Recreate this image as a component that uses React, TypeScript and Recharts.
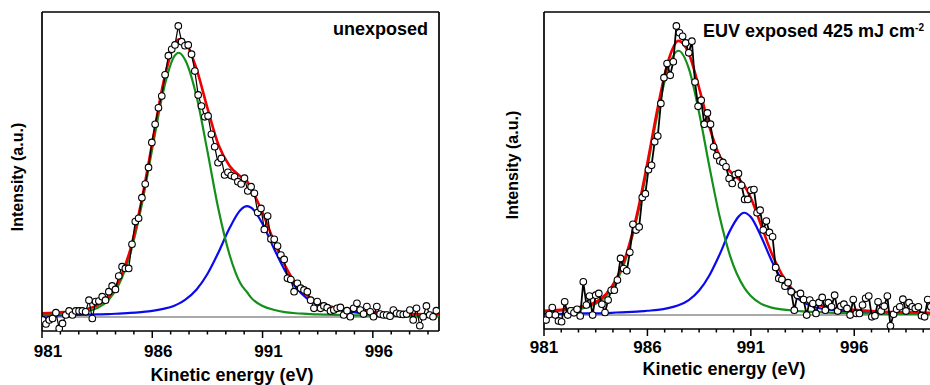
import React from 'react';
import { ComposedChart, Line, XAxis, YAxis, ReferenceLine } from 'recharts';

const FONT = '"Liberation Sans", Arial, Helvetica, sans-serif';

// measured spectra: kinetic energy grid start (eV) and step
const leftStart = 981.03;
const rightStart = 981.1;
const stepEV = 0.15;

// unexposed, normalised intensity (peak = 1000)
const leftCounts = [
  -10, -24, -10, -5, 15, -39, -22, 7, 21, 7,
  21, 21, 21, 18, 58, -5, 53, 55, 70, 58,
  87, 107, 95, 141, 173, 167, 167, 250, 328, 339,
  410, 457, 514, 600, 662, 719, 759, 832, 898, 920,
  935, 1000, 946, 932, 935, 903, 845, 763, 725, 688,
  691, 628, 585, 530, 545, 488, 497, 486, 482, 465,
  457, 477, 433, 448, 425, 359, 373, 301, 347, 268,
  267, 244, 213, 198, 133, 129, 87, 116, 99, 93,
  87, 58, 30, 53, 30, 38, 32, 21, 24, 30,
  33, 7, 22, 1, 30, 47, 24, 10, 36, 18,
  1, 36, 10, 7, 7, 3, 24, 13, 10, 9,
  10, 24, -10, 30, -30, 1, 38, 7, 1, 22,
];

// EUV exposed 425 mJ cm-2
const rightCounts = [
  -17, 2, 26, 0, -20, -23, 46, 0, 15, 8,
  20, -3, 115, 35, 66, 0, 69, 75, 38, 9,
  52, 86, 86, 121, 196, 161, 153, 217, 314, 294,
  305, 407, 420, 503, 518, 599, 619, 732, 821, 870,
  829, 876, 1000, 976, 964, 941, 907, 947, 806, 722,
  743, 660, 699, 660, 582, 551, 533, 528, 513, 472,
  455, 486, 490, 449, 400, 400, 432, 434, 354, 363,
  294, 325, 286, 271, 165, 127, 123, 100, 112, 81,
  17, 69, 75, 54, 0, 52, 40, 6, 44, 61,
  17, 43, 29, 69, 14, 31, 38, 23, 0, 54,
  6, 6, 35, 58, 66, -6, -2, 46, 14, 31,
  66, -37, 3, 20, 29, 55, 14, 43, 29, 23,
  29, -2, -6, 54, 29,
];

// fitted components, sampled off the curves
const leftFitE = [981, 982, 983, 983.5, 984, 984.5, 985, 985.5, 986, 986.5, 987, 987.2, 987.5, 988, 988.5, 989, 989.5, 990, 990.3, 990.5, 991, 991.5, 992, 992.5, 993, 993.5, 994, 995, 996, 997, 998, 999];
const leftGreen = [8, 11, 19, 31, 57, 114, 217, 377, 578, 776, 896, 908, 882, 760, 570, 370, 215, 115, 85, 65, 38, 25, 17, 13, 11, 9, 8, 6, 5, 4, 3, 3];
const leftBlue = [5, 6, 8, 9, 10, 12, 14, 17, 21, 28, 39, 46, 60, 94, 148, 222, 305, 368, 381, 375, 320, 238, 162, 103, 65, 42, 30, 18, 12, 9, 7, 6];

const rightFitE = [981, 982, 983, 983.5, 984, 984.5, 985, 985.5, 986, 986.5, 987, 987.5, 988, 988.5, 989, 989.5, 990, 990.68, 991, 991.5, 992, 992.5, 993, 993.5, 994, 995, 996, 997, 998, 999, 1000];
const rightGreen = [11, 16, 26, 39, 66, 116, 204, 338, 512, 700, 853, 914, 853, 700, 512, 338, 204, 95, 66, 39, 26, 20, 16, 13, 11, 8, 7, 5, 4, 4, 3];
const rightBlue = [4, 4, 6, 6, 7, 9, 10, 12, 15, 18, 24, 34, 52, 85, 138, 211, 293, 354, 339, 271, 189, 121, 74, 46, 30, 17, 11, 8, 6, 5, 4];

const majorTicks = [981, 986, 991, 996];
const minorPerMajor = 6;
const yDomain = [-48, 1048];

const toPoints = (xs: number[], ys: number[]) => xs.map((x, i) => ({ x, y: ys[i] }));
const gridPoints = (start: number, ys: number[]) =>
  ys.map((y, i) => ({ x: +(start + i * stepEV).toFixed(3), y }));

function makeTicks(max: number) {
  const out: number[] = [];
  const sub = 5 / minorPerMajor;
  for (let k = 0; majorTicks[0] + k * sub <= max + 1e-9; k++) out.push(majorTicks[0] + k * sub);
  return out;
}

const XTick = ({ x, y, payload, dx, dy }: any) => {
  const v = payload.value;
  const major = majorTicks.some((m) => Math.abs(m - v) < 1e-6);
  return (
    <g>
      <line x1={x} x2={x} y1={y} y2={y + (major ? 7 : 3.5)} stroke="#000" strokeWidth={1.5} />
      {major && (
        <text x={x + dx} y={y + dy} textAnchor="middle" fontFamily={FONT} fontWeight="bold" fontSize={17} fill="#000">
          {Math.round(v)}
        </text>
      )}
    </g>
  );
};

interface PanelProps {
  left: number;
  width: number;
  plotLeft: number;
  marginRight: number;
  axisHeight: number;
  xMax: number;
  start: number;
  counts: number[];
  fitE: number[];
  green: number[];
  blue: number[];
  yLabel: [number, number];
  title: [number, number];
  tickDx: number;
  tickDy: number;
  lineWidth: number;
  note: React.ReactElement;
}

function Panel(p: PanelProps) {
  const red = p.green.map((g, i) => g + p.blue[i]);
  const frame = { stroke: '#000', strokeWidth: 1.7 };
  return (
    <div style={{ position: 'absolute', left: p.left, top: 0 }}>
      <ComposedChart width={p.width} height={385} margin={{ top: 12, right: p.marginRight, bottom: 0, left: 8 }}>
        <XAxis
          xAxisId="b"
          dataKey="x"
          type="number"
          domain={[981, p.xMax]}
          allowDataOverflow
          ticks={makeTicks(p.xMax)}
          interval={0}
          tickSize={0}
          tickMargin={0}
          tickLine={false}
          height={p.axisHeight}
          axisLine={frame}
          tick={(t: any) => <XTick {...t} dx={p.tickDx} dy={p.tickDy} />}
          label={{
            content: () => (
              <text x={p.title[0]} y={p.title[1]} textAnchor="middle" fontFamily={FONT} fontWeight="bold" fontSize={18} fill="#000">
                Kinetic energy (eV)
              </text>
            ),
          }}
        />
        <YAxis
          yAxisId="l"
          type="number"
          domain={yDomain}
          allowDataOverflow
          width={p.plotLeft - 8}
          tick={false}
          tickLine={false}
          axisLine={frame}
          label={{
            content: () => (
              <text
                x={p.yLabel[0]}
                y={p.yLabel[1]}
                transform={`rotate(-90 ${p.yLabel[0]} ${p.yLabel[1]})`}
                textAnchor="middle"
                fontFamily={FONT}
                fontWeight="bold"
                fontSize={16}
                fill="#000"
              >
                Intensity (a.u.)
              </text>
            ),
          }}
        />
        <ReferenceLine xAxisId="b" yAxisId="l" y={0} stroke="#8c8c8c" strokeWidth={1.5} />
        {/* top and right edges of the frame */}
        <ReferenceLine xAxisId="b" yAxisId="l" y={yDomain[1]} stroke="#000" strokeWidth={1.7} label={{ content: () => p.note }} />
        <ReferenceLine xAxisId="b" yAxisId="l" x={p.xMax} stroke="#000" strokeWidth={1.7} />
        <Line xAxisId="b" yAxisId="l" data={toPoints(p.fitE, p.blue)} dataKey="y" type="monotone" stroke="#0a0aef" strokeWidth={2.2} dot={false} activeDot={false} isAnimationActive={false} />
        <Line xAxisId="b" yAxisId="l" data={toPoints(p.fitE, p.green)} dataKey="y" type="monotone" stroke="#13901a" strokeWidth={2.2} dot={false} activeDot={false} isAnimationActive={false} />
        <Line xAxisId="b" yAxisId="l" data={toPoints(p.fitE, red)} dataKey="y" type="monotone" stroke="#f00000" strokeWidth={2.6} dot={false} activeDot={false} isAnimationActive={false} />
        <Line
          xAxisId="b"
          yAxisId="l"
          data={gridPoints(p.start, p.counts)}
          dataKey="y"
          type="linear"
          stroke="#000"
          strokeWidth={p.lineWidth}
          dot={{ r: 3.3, fill: '#fff', stroke: '#000', strokeWidth: 1.1 }}
          activeDot={false}
          isAnimationActive={false}
        />
      </ComposedChart>
    </div>
  );
}

export default function App() {
  return (
    <div style={{ position: 'absolute', left: 0, top: 0, width: 930, height: 385, overflow: 'hidden', background: '#fff' }}>
      <Panel
        left={0}
        width={460}
        plotLeft={42}
        marginRight={21}
        axisHeight={54}
        xMax={999}
        start={leftStart}
        counts={leftCounts}
        fitE={leftFitE}
        green={leftGreen}
        blue={leftBlue}
        yLabel={[23, 177]}
        title={[232, 381]}
        tickDx={6}
        tickDy={26}
        lineWidth={1.2}
        note={
          <text x={428} y={35} textAnchor="end" fontFamily={FONT} fontWeight="bold" fontSize={18} fill="#000">
            unexposed
          </text>
        }
      />
      <Panel
        left={470}
        width={470}
        plotLeft={74}
        marginRight={3}
        axisHeight={56}
        xMax={1000}
        start={rightStart}
        counts={rightCounts}
        fitE={rightFitE}
        green={rightGreen}
        blue={rightBlue}
        yLabel={[48, 165]}
        title={[254, 375]}
        tickDx={0}
        tickDy={24}
        lineWidth={1.8}
        note={
          <text x={233} y={37} fontFamily={FONT} fontWeight="bold" fontSize={18} fill="#000">
            EUV exposed 425 mJ cm
            <tspan dy={-6} fontSize={10}>-2</tspan>
          </text>
        }
      />
    </div>
  );
}
